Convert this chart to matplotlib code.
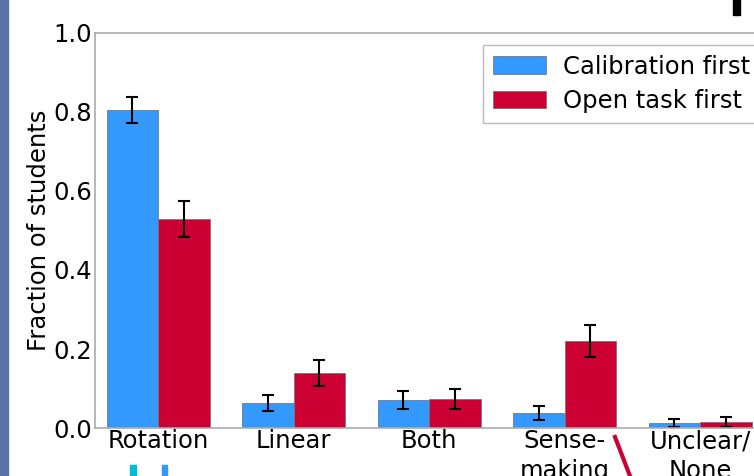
import numpy as np
import matplotlib.pyplot as plt
from matplotlib.patches import Rectangle
from matplotlib.lines import Line2D

categories = ["Rotation", "Linear", "Both", "Sense-\nmaking", "Unclear/\nNone"]
calib_first = [0.805, 0.063, 0.071, 0.038, 0.013]
calib_err = [0.032, 0.020, 0.023, 0.017, 0.010]
open_first = [0.529, 0.139, 0.073, 0.220, 0.015]
open_err = [0.046, 0.033, 0.025, 0.040, 0.013]

fs = 17.5

fig = plt.figure(figsize=(7.54, 4.76), dpi=100)
ax = fig.add_axes([0.126, 0.1008, 0.886, 0.83])

x = np.arange(len(categories))
w = 0.38
ax.bar(x - w / 2, calib_first, w, yerr=calib_err, color="#3399ff", edgecolor="#777777",
       linewidth=0.6, capsize=4, error_kw=dict(elinewidth=1.5, capthick=1.5),
       label="Calibration first")
ax.bar(x + w / 2, open_first, w, yerr=open_err, color="#cc0033", edgecolor="#777777",
       linewidth=0.6, capsize=4, error_kw=dict(elinewidth=1.5, capthick=1.5),
       label="Open task first")

ax.set_xlim(-0.465, len(categories) - 1 + 0.465)
ax.set_ylim(0, 1.0)
ax.set_yticks([0.0, 0.2, 0.4, 0.6, 0.8, 1.0])
ax.set_xticks(x)
ax.set_xticklabels(categories, fontsize=fs, linespacing=1.28)
ax.tick_params(axis="y", labelsize=fs, length=0, pad=2)
ax.tick_params(axis="x", length=0, pad=1)
ax.set_ylabel("Fraction of students", fontsize=fs, labelpad=2)
for s in ax.spines.values():
    s.set_color("#aaaaaa")
    s.set_linewidth(1.2)

ax.legend(loc="upper left", bbox_to_anchor=(0.581, 0.970), borderaxespad=0,
          fontsize=fs, frameon=True, fancybox=False, edgecolor="#aaaaaa",
          handlelength=2.2, handletextpad=0.7, labelspacing=0.45)

# slide decorations around the cropped chart
fig.add_artist(Rectangle((0, 0), 8 / 754, 1, transform=fig.transFigure, color="#5a72a8"))
fig.add_artist(Rectangle((733 / 754, 1 - 15 / 476), 7 / 754, 15 / 476,
                         transform=fig.transFigure, color="black"))
fig.add_artist(Rectangle((130 / 754, 0), 6 / 754, 11 / 476, transform=fig.transFigure, color="#00bcd4"))
fig.add_artist(Rectangle((162 / 754, 0), 5 / 754, 11 / 476, transform=fig.transFigure, color="#3399ff"))
fig.add_artist(Line2D([615 / 754, 630 / 754], [1 - 437 / 476, 0], transform=fig.transFigure,
                      color="#cc0033", linewidth=3))

fig.savefig("out.png", dpi=100)
